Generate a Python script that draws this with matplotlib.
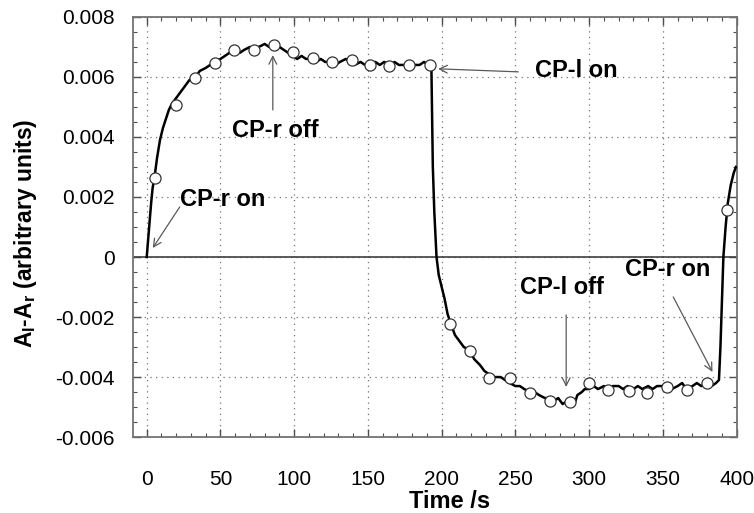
import matplotlib
matplotlib.use("Agg")
import matplotlib.pyplot as plt
from matplotlib.ticker import MultipleLocator

plt.rcParams['font.family'] = ['Liberation Sans', 'DejaVu Sans']
plt.rcParams['mathtext.fontset'] = 'custom'
plt.rcParams['mathtext.bf'] = 'Liberation Sans:bold'
plt.rcParams['mathtext.rm'] = 'Liberation Sans:bold'

# ---- data ----
line_t = [0, 1, 2, 3, 4, 5.4, 7, 9, 11, 13, 15, 17, 20, 23, 26, 29, 33, 36, 40, 43,
          46, 50, 53, 56, 60, 63, 66, 70, 73, 76, 80, 83, 86, 88, 90, 93, 96, 99,
          102, 105, 108, 112, 115, 118, 121, 125, 128, 131, 135, 138, 141, 145, 148,
          151, 155, 158, 161, 165, 168, 171, 175, 178, 181, 185, 188, 191, 193,
          194, 195, 196.5, 198, 200, 202, 204, 206, 209, 212, 215, 219, 222, 226,
          229, 232, 236, 240, 243, 246, 250, 253, 256, 260, 263, 266, 270, 273, 276,
          279, 282, 285, 288, 290, 292, 295, 297, 300, 303, 306, 310, 313, 316, 320,
          323, 326, 330, 333, 336, 340, 343, 346, 350, 353, 356, 360, 363, 366, 370,
          373, 376, 380, 383, 386, 388, 389, 390, 391, 392.5, 394, 396, 398, 399.5]
line_v = [0.0, 0.0006, 0.0012, 0.0018, 0.0023, 0.0027, 0.0033, 0.0039, 0.0043, 0.0046,
          0.0049, 0.0051, 0.0053, 0.0055, 0.0057, 0.0059, 0.0060, 0.0062, 0.0063, 0.0064,
          0.0065, 0.0066, 0.0067, 0.0068, 0.0069, 0.0068, 0.0069, 0.0070, 0.0069, 0.0070,
          0.0071, 0.0070, 0.0071, 0.0069, 0.0070, 0.0069, 0.0068, 0.0067,
          0.0066, 0.0067, 0.0066, 0.0066, 0.0065, 0.0066, 0.0065, 0.0065, 0.0064, 0.0065,
          0.0066, 0.0065, 0.0064, 0.0065, 0.0064, 0.0064, 0.0065, 0.0064, 0.0065, 0.0064,
          0.0065, 0.0064, 0.0064, 0.0065, 0.0064, 0.0064, 0.0065, 0.0064, 0.0064,
          0.0030, 0.0015, 0.0, -0.0006, -0.0010, -0.0014, -0.0019, -0.0022, -0.0026,
          -0.0028, -0.0030, -0.0031, -0.0034, -0.0036, -0.0038, -0.0039, -0.0040, -0.0040,
          -0.0041, -0.0042, -0.0043, -0.0043, -0.0044, -0.0045, -0.0045, -0.0046, -0.0047,
          -0.0047, -0.0048, -0.0047, -0.0049, -0.0048, -0.0047, -0.0049, -0.0046, -0.0045,
          -0.0044, -0.0044, -0.0043, -0.0044, -0.0043, -0.0044, -0.0043, -0.0043, -0.0044,
          -0.0043, -0.0044, -0.0043, -0.0044, -0.0043, -0.0044, -0.0043, -0.0043, -0.0042,
          -0.0044, -0.0043, -0.0042, -0.0044, -0.0043, -0.0042, -0.0043, -0.0042, -0.0043,
          -0.0042, -0.0041, -0.0030, -0.0015, 0.0, 0.0010, 0.0018, 0.0024, 0.0028, 0.0030]

marker_t = [5.4, 19.7, 33, 46, 59.5, 72.5, 86, 99, 112.5, 125.5, 139.5, 151.5, 164.5,
            178, 192, 205.7, 219.5, 232, 246.5, 260, 273.6, 287, 299.6, 313, 326.8,
            339, 352.7, 366.3, 380, 393.5]
marker_v = [0.00263, 0.00507, 0.00597, 0.00647, 0.0069, 0.0069, 0.00707, 0.00683,
            0.00663, 0.0065, 0.00655, 0.0064, 0.00637, 0.0064, 0.0064, -0.00223,
            -0.00312, -0.00404, -0.00404, -0.00454, -0.00479, -0.00482, -0.00421,
            -0.00443, -0.00446, -0.00452, -0.00434, -0.00443, -0.00421, 0.00157]

labels = ["CP-r on", "CP-r off", "CP-l on", "CP-l off", "CP-r on"]
label_pos = [(22.4, 0.0019), (57.7, 0.00423), (263.4, 0.00623), (253.2, -0.00103), (324.5, -0.00043)]
arrow_tail = [(22.4, 0.00167), (85.5, 0.0049), (251.9, 0.00617), (284.4, -0.00193), (357, -0.00133)]
arrow_head = [(4.1, 0.0003), (85.5, 0.00673), (197.6, 0.00627), (284.4, -0.00433), (383.6, -0.00383)]

xticks = [0, 50, 100, 150, 200, 250, 300, 350, 400]
yticks = [-0.006, -0.004, -0.002, 0, 0.002, 0.004, 0.006, 0.008]
ytick_labels = ["-0.006", "-0.004", "-0.002", "0", "0.002", "0.004", "0.006", "0.008"]

fig = plt.figure(figsize=(7.54, 5.13), dpi=100)
ax = fig.add_axes([0.176, 0.148, 0.801, 0.819])

ax.axhline(0, color='0.25', lw=1.2, zorder=2)
ax.plot(line_t, line_v, color='black', lw=1.8, zorder=3)
ax.plot(marker_t, marker_v, linestyle='none', marker='o', markersize=8,
        markerfacecolor='white', markeredgecolor='0.2', markeredgewidth=0.9, zorder=4)

for lab, (tx, ty), tail, head in zip(labels, label_pos, arrow_tail, arrow_head):
    ax.text(tx, ty, lab, fontsize=17, fontweight='bold', ha='left', va='center', zorder=5)
    ax.annotate('', xy=head, xytext=tail,
                arrowprops=dict(arrowstyle='->', color='0.35', lw=0.9,
                                shrinkA=0, shrinkB=0, mutation_scale=14))

ax.set_xlim(-9.5, 399.5)
ax.set_ylim(-0.006, 0.008)
ax.set_xticks(xticks)
ax.set_xticklabels([str(v) for v in xticks])
ax.set_yticks(yticks)
ax.set_yticklabels(ytick_labels)
ax.xaxis.set_minor_locator(MultipleLocator(10))
ax.yaxis.set_minor_locator(MultipleLocator(0.0005))
ax.tick_params(which='both', direction='in', top=True, right=True, colors='0.3',
               labelcolor='black')
ax.tick_params(which='major', length=6, width=1)
ax.tick_params(which='minor', length=3, width=0.8)
ax.tick_params(axis='x', which='major', labelsize=15, pad=24)
ax.tick_params(axis='y', which='major', labelsize=15, pad=13)

ax.grid(True, which='major', color='0.45', linestyle=(0, (1, 3.5)), lw=0.9)
for s in ax.spines.values():
    s.set_color('0.45')
    s.set_linewidth(1.3)

ax.set_xlabel('Time /s', fontsize=17, fontweight='bold')
ax.xaxis.set_label_coords(0.525, -0.125)
ax.set_ylabel(r'A$_\mathbf{l}$-A$_\mathbf{r}$ (arbitrary units)', fontsize=16.5, fontweight='bold')
ax.yaxis.set_label_coords(-0.155, 0.485)

fig.savefig('out.png', dpi=100)
